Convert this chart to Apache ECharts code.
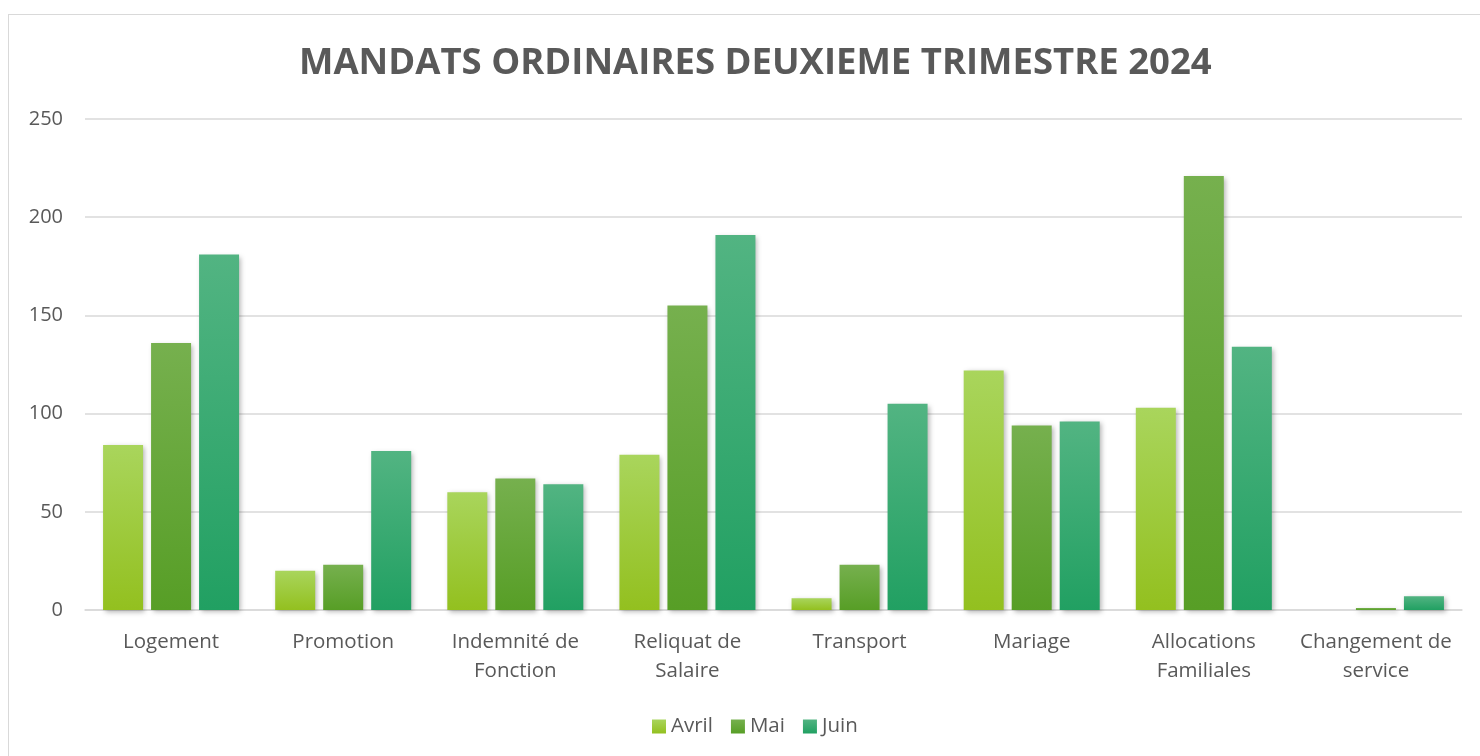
<!DOCTYPE html>
<html>
<head>
<meta charset="utf-8">
<script src="https://cdn.jsdelivr.net/npm/echarts@6/dist/echarts.min.js"></script>
<style>
  html, body { margin: 0; padding: 0; background: #fff; }
  #frame { position: absolute; left: 8px; top: 14px; width: 1480px; height: 760px; border: 1px solid #d9d9d9; box-sizing: border-box; }
  #chart { position: absolute; left: 0; top: 0; width: 1480px; height: 756px; }
</style>
</head>
<body>
<div id="frame"></div>
<div id="chart"></div>
<script>
const categories = ['Logement', 'Promotion', 'Indemnité de\nFonction', 'Reliquat de\nSalaire', 'Transport', 'Mariage', 'Allocations\nFamiliales', 'Changement de\nservice']
const avril = [84, 20, 60, 79, 6, 122, 103, 0]
const mai = [136, 23, 67, 155, 23, 94, 221, 1]
const juin = [181, 81, 64, 191, 105, 96, 134, 7]
const yTicks = [0, 50, 100, 150, 200, 250]

const grad = (top, bottom) =>
  new echarts.graphic.LinearGradient(0, 0, 0, 1, [
    { offset: 0, color: top },
    { offset: 1, color: bottom },
  ])

const seriesList = [
  { name: 'Avril', data: avril, top: '#a9d55c', bottom: '#93c01f' },
  { name: 'Mai', data: mai, top: '#76b04e', bottom: '#579e26' },
  { name: 'Juin', data: juin, top: '#52b482', bottom: '#21a062' },
]

const chart = echarts.init(document.getElementById('chart'))
const textColor = '#595959'
const font = '"Open Sans", "Liberation Sans", sans-serif'

chart.setOption({
  animation: false,
  textStyle: { fontFamily: font },
  title: {
    text: 'MANDATS ORDINAIRES DEUXIEME TRIMESTRE 2024',
    left: 294,
    top: 40,
    textStyle: { color: textColor, fontSize: 36.5, fontWeight: 'bold', fontFamily: font },
  },
  legend: {
    bottom: 14,
    left: 647,
    itemWidth: 14,
    itemHeight: 14,
    itemGap: 18,
    icon: 'rect',
    textStyle: { color: textColor, fontSize: 20.5 },
    data: seriesList.map((s) => s.name),
  },
  grid: { left: 85, right: 18, top: 119, bottom: 146 },
  xAxis: {
    type: 'category',
    data: categories,
    axisTick: { show: false },
    axisLine: { lineStyle: { color: '#d9d9d9', width: 1.5 } },
    axisLabel: { color: textColor, fontSize: 20.5, lineHeight: 29, margin: 18, interval: 0 },
  },
  yAxis: {
    type: 'value',
    min: 0,
    max: yTicks[yTicks.length - 1],
    interval: 50,
    axisLine: { show: false },
    axisTick: { show: false },
    axisLabel: { color: textColor, fontSize: 20, margin: 22 },
    splitLine: { lineStyle: { color: '#d9d9d9', width: 1.5 } },
  },
  series: seriesList.map((s) => ({
    name: s.name,
    type: 'bar',
    data: s.data,
    barWidth: 40,
    barGap: '20%',
    itemStyle: {
      color: grad(s.top, s.bottom),
      shadowBlur: 5,
      shadowColor: 'rgba(0,0,0,0.3)',
      shadowOffsetX: 2,
      shadowOffsetY: 2,
    },
  })),
})
</script>
</body>
</html>
